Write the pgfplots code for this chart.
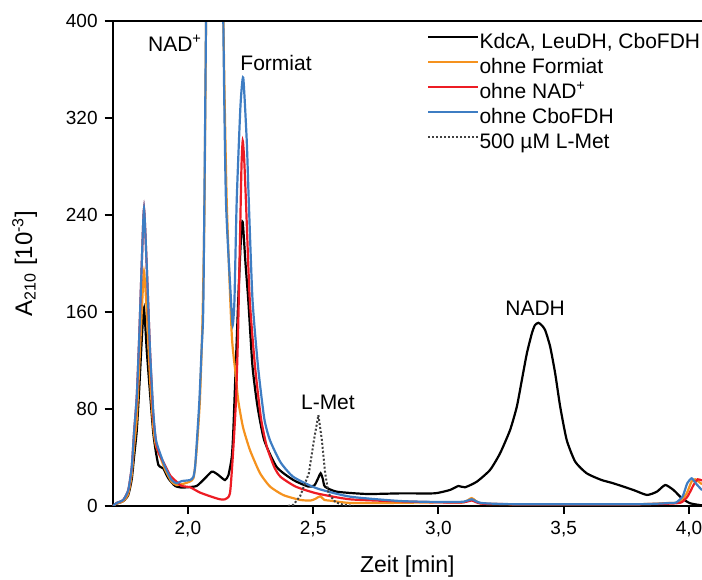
\documentclass[border=0pt]{standalone}
\usepackage{pgfplots}
\pgfplotsset{compat=1.18}
\usepackage{fontspec}
\setmainfont{Liberation Sans}
\definecolor{cOrange}{RGB}{245,146,30}
\definecolor{cRed}{RGB}{237,28,36}
\definecolor{cBlue}{RGB}{62,125,195}
\begin{document}
\begin{tikzpicture}
\begin{axis}[
  scale only axis,
  width=294.65pt, height=242.65pt,
  xmin=1.70, xmax=4.052, ymin=0, ymax=400,
  axis x line*=bottom, axis y line*=left,
  axis line style={-, line width=1pt, black},
  xtick={2,2.5,3,3.5,4}, ytick={0,80,160,240,320,400},
  tick align=outside, major tick length=4pt,
  tick style={line width=1pt, black},
  /pgf/number format/assume math mode=true,
  xticklabel style={/pgf/number format/.cd, use comma, fixed, fixed zerofill, precision=1},
  yticklabel style={/pgf/number format/.cd, fixed, precision=0},
  ticklabel style={font=\fontsize{9.5}{11}\selectfont},
  xlabel={Zeit [min]},
  ylabel={A\textsubscript{210} [10\textsuperscript{-3}]},
  xlabel style={font=\fontsize{11.5}{13}\selectfont, at={([yshift=-30.5pt]rel axis cs:0.5,0)}, anchor=center},
  ylabel style={font=\fontsize{12}{14}\selectfont, at={([xshift=-44pt]rel axis cs:0,0.5)}, anchor=center},
  legend style={draw=none, fill=none, inner sep=0pt, at={(rel axis cs:0.5333,0.976)}, anchor=north west,
    font=\fontsize{10.5}{12}\selectfont, nodes={inner sep=0pt, text height=8pt, text depth=2.5pt}, row sep=2pt, column sep=0pt},
  legend cell align=left,
  legend image code/.code={\draw[#1] (0pt,3.2pt) -- (25pt,3.2pt);},
]
\coordinate (tl) at (rel axis cs:0,1);
\coordinate (tr) at (rel axis cs:1,1);
\coordinate (bl) at (rel axis cs:0,0);
% black
\addplot[black, line width=1.1pt, smooth, tension=0.35] coordinates {
(1.700,0) (1.716,2) (1.742,4) (1.762,9) (1.776,22) (1.785,40) (1.796,62) (1.806,97) (1.816,137) (1.825,163) (1.836,128) (1.849,93) (1.862,60) (1.872,45) (1.882,34) (1.892,32) (1.902,31) (1.922,22.8) (1.949,16.5) (1.975,15.2) (1.995,15.4) (2.035,16.5) (2.068,22.8) (2.095,28.3) (2.108,27.5) (2.122,25.5) (2.148,21.4) (2.162,25.5) (2.175,40) (2.181,60) (2.192,120) (2.203,180) (2.213,225) (2.219,234) (2.23,200) (2.241,170) (2.258,115) (2.278,82) (2.305,54) (2.355,32) (2.421,21.4) (2.481,16) (2.505,17) (2.518,22) (2.53,27) (2.539,22) (2.547,16) (2.594,11.8) (2.714,9.9) (2.85,10.4) (2.98,10.4) (3.02,11.8) (3.05,13.5) (3.08,16.5) (3.106,15.4) (3.153,20) (3.206,29.7) (3.246,43.4) (3.286,62.6) (3.313,81.9) (3.333,103.8) (3.353,125.8) (3.373,142.3) (3.385,149) (3.399,151) (3.412,149) (3.426,145) (3.446,131.3) (3.466,109.3) (3.486,81.9) (3.512,54.4) (3.546,36.5) (3.592,26.9) (3.65,21.5) (3.698,18.7) (3.778,13.2) (3.832,9.1) (3.872,11.8) (3.905,17.3) (3.938,13.2) (3.972,6.3) (4.005,2.2) (4.052,0.5)
};
\addlegendentry{KdcA, LeuDH, CboFDH}
% orange
\addplot[cOrange, line width=1.1pt, smooth, tension=0.35] coordinates {
(1.700,0) (1.716,2) (1.742,4) (1.762,10) (1.776,26) (1.785,48) (1.796,72) (1.806,115) (1.816,160) (1.825,193) (1.836,160) (1.849,105) (1.862,65) (1.872,50) (1.889,41) (1.909,30) (1.935,20) (1.955,17.3) (1.989,18.7) (2.022,22.8) (2.035,46) (2.048,87) (2.058,150) (2.066,240) (2.0725,400) (2.085,700) (2.107,900) (2.13,700) (2.142,400) (2.155,252) (2.175,142) (2.19,110) (2.201,87) (2.22,65) (2.248,46) (2.288,27) (2.328,16) (2.381,9) (2.448,5) (2.49,4.5) (2.51,6) (2.528,8) (2.545,5) (2.567,4.4) (2.647,2.5) (2.8,2.5) (3.0,3) (3.1,3) (3.133,6.5) (3.17,2) (3.3,1.5) (3.8,1.5) (3.92,2.5) (3.96,3) (3.99,10) (4.01,20) (4.025,22) (4.045,19) (4.052,18)
};
\addlegendentry{ohne Formiat}
% red
\addplot[cRed, line width=1.1pt, smooth, tension=0.35] coordinates {
(1.700,0) (1.716,2.5) (1.742,5) (1.762,13) (1.776,32) (1.785,60) (1.796,90) (1.806,140) (1.816,200) (1.825,245) (1.836,197) (1.849,128) (1.862,74) (1.875,50) (1.885,43) (1.905,35) (1.93,25) (1.955,20) (1.975,16.5) (2.009,15.4) (2.049,11) (2.102,7.1) (2.129,5.5) (2.148,5.5) (2.168,10.4) (2.181,46) (2.192,87) (2.2,140) (2.208,220) (2.214,280) (2.219,301) (2.225,285) (2.232,250) (2.247,170) (2.268,115) (2.292,72) (2.315,49) (2.345,32) (2.37,24) (2.43,16) (2.514,10.4) (2.647,5.5) (2.85,3.8) (3.0,3) (3.1,3) (3.133,4.5) (3.17,2) (3.3,1.5) (3.8,1.5) (3.93,2) (3.97,3) (3.995,8) (4.02,18) (4.035,22) (4.052,21)
};
\addlegendentry{ohne NAD\textsuperscript{+}}
% blue
\addplot[cBlue, line width=1.1pt, smooth, tension=0.35] coordinates {
(1.700,0) (1.716,2.5) (1.742,5) (1.762,13) (1.776,32) (1.785,60) (1.796,90) (1.806,140) (1.816,200) (1.825,245) (1.836,197) (1.849,128) (1.862,78) (1.872,55) (1.889,43.4) (1.909,32.4) (1.935,21.4) (1.955,18.7) (1.975,20.5) (2.009,21.4) (2.022,24) (2.029,32.4) (2.038,60) (2.046,87) (2.055,130) (2.062,170) (2.0725,400) (2.085,700) (2.107,900) (2.13,700) (2.1415,400) (2.152,252) (2.172,170) (2.179,149) (2.186,170) (2.195,252) (2.21,330) (2.221,353) (2.235,301) (2.243,252) (2.258,170) (2.28,115) (2.305,72) (2.328,54) (2.37,36) (2.421,24) (2.514,14.6) (2.647,7.7) (2.847,4.1) (3.0,3.3) (3.1,3.5) (3.133,5.5) (3.17,2.5) (3.3,1.5) (3.8,1.5) (3.93,2.5) (3.95,3) (3.975,8) (3.993,18.7) (4.011,22.8) (4.03,18) (4.052,13)
};
\addlegendentry{ohne CboFDH}
% dotted L-Met
\addplot[black!75, line width=1pt, densely dotted] coordinates {
(2.40,0) (2.421,1) (2.448,8) (2.483,27) (2.503,54) (2.521,75) (2.535,54) (2.548,27) (2.562,10) (2.59,3) (2.62,1) (2.66,0)
};
\addlegendentry{500 µM L-Met}
\node[font=\fontsize{10.5}{12}\selectfont] at (axis cs:1.949,381.6) {NAD\textsuperscript{+}};
\node[font=\fontsize{10.5}{12}\selectfont] at (axis cs:2.352,365) {Formiat};
\node[font=\fontsize{10.5}{12}\selectfont] at (axis cs:2.559,85.7) {L-Met};
\node[font=\fontsize{10.5}{12}\selectfont] at (axis cs:3.386,163) {NADH};
\end{axis}
\draw[line width=1pt, black] (tl) -- (tr);
\pgfresetboundingbox
\path ([xshift=-56.35pt,yshift=-37pt]bl) rectangle ([yshift=10.35pt]tr);
\end{tikzpicture}
\end{document}
